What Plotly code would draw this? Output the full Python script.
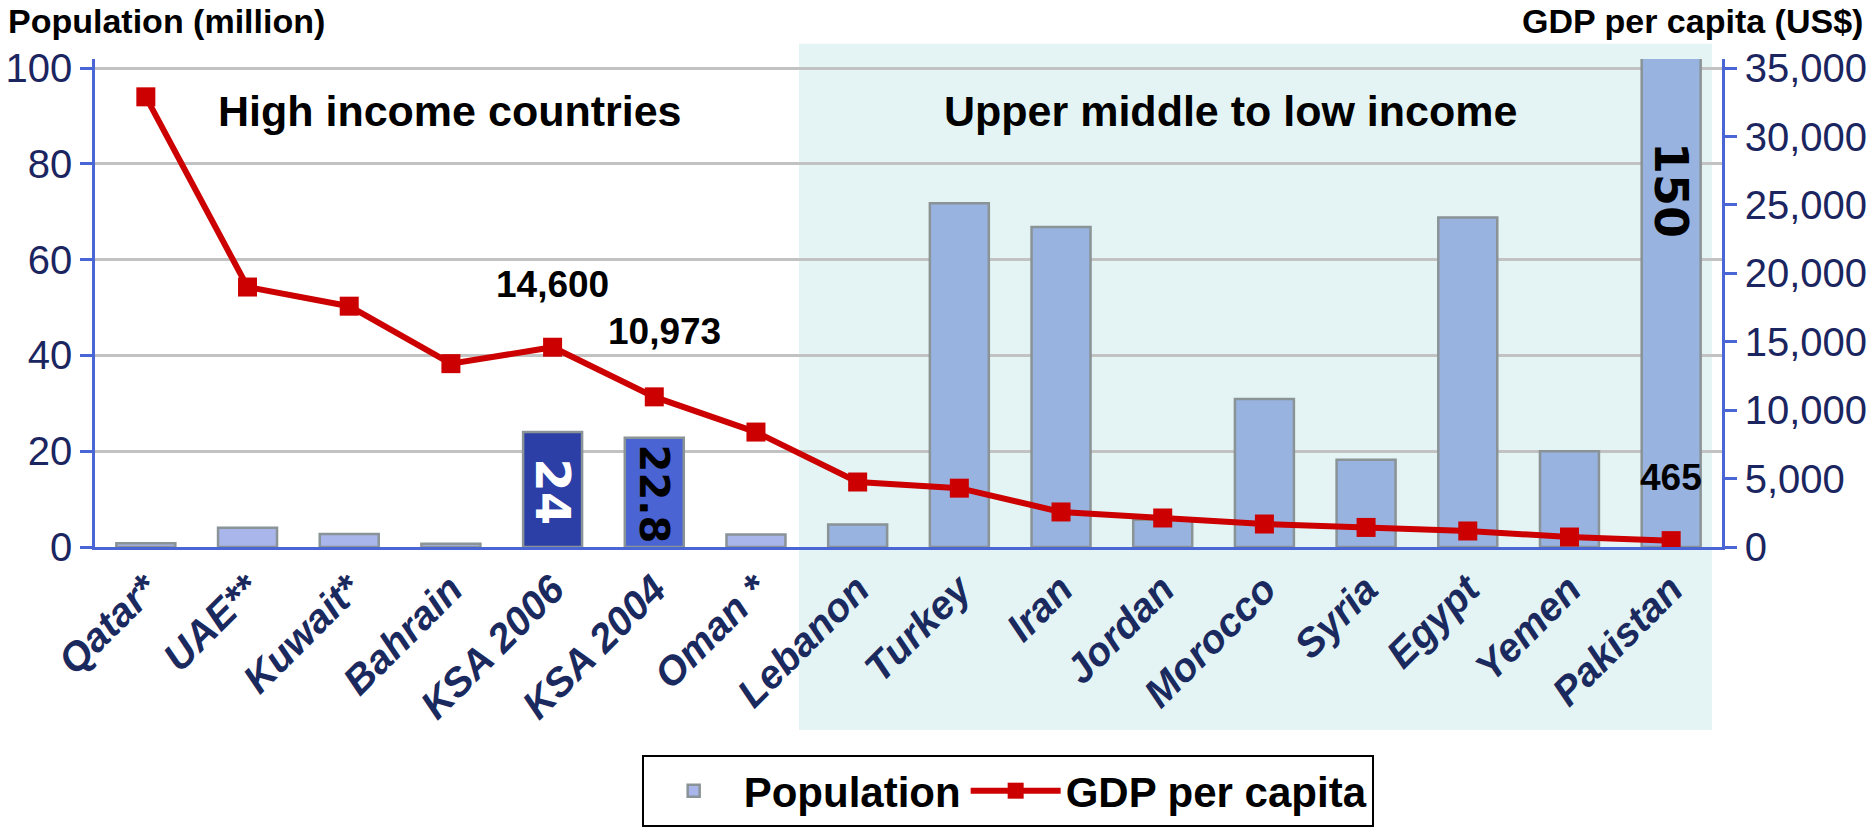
import plotly.graph_objects as go

# dados
paises = ["Qatar*", "UAE**", "Kuwait*", "Bahrain", "KSA 2006", "KSA 2004", "Oman *",
          "Lebanon", "Turkey", "Iran", "Jordan", "Morocco", "Syria", "Egypt", "Yemen", "Pakistan"]
populacao = [0.8, 4.0, 2.7, 0.7, 24, 22.8, 2.6, 4.7, 71.8, 66.8, 5.7, 30.9, 18.2, 68.8, 20.0, 150]
pib_per_capita = [32900, 19000, 17600, 13400, 14600, 10973, 8400, 4750, 4300, 2560, 2120, 1680, 1430, 1170, 730, 465]

ticks_pop = [0, 20, 40, 60, 80, 100]
ticks_pib = [0, 5000, 10000, 15000, 20000, 25000, 30000, 35000]

grupo_alto = "High income countries"
grupo_baixo = "Upper middle to low income"

# cores das barras
cor_alto = "#A9B6EB"
cor_baixo = "#98B3E0"
cores = []
for i, p in enumerate(paises):
    if p == "KSA 2006":
        cores.append("#2B3FA6")
    elif p == "KSA 2004":
        cores.append("#4A64D4")
    elif i < 7:
        cores.append(cor_alto)
    else:
        cores.append(cor_baixo)

FONTE = "Liberation Sans, Arial, sans-serif"
FONTE_LARGA = "DejaVu Sans, Verdana, sans-serif"
AZUL = "#4A66D4"
NAVY = "#1B2560"

fig = go.Figure()

fig.add_trace(go.Bar(
    x=paises, y=populacao, name="Population",
    marker=dict(color=cores, line=dict(color="#8A9396", width=2.5)),
    width=0.58, yaxis="y"
))

fig.add_trace(go.Scatter(
    x=paises, y=pib_per_capita, name="GDP per capita", mode="lines+markers",
    line=dict(color="#CC0000", width=6),
    marker=dict(symbol="square", size=19, color="#CC0000"),
    yaxis="y2"
))

# area sombreada (renda media/baixa)
fig.add_shape(type="rect", xref="paper", yref="paper",
              x0=0.4327, x1=0.9938, y0=-0.375, y1=1.031,
              fillcolor="#E4F4F4", line=dict(width=0), layer="below")

negrito = lambda s, c="black", f=FONTE: dict(family=f, size=s, color=c, weight="bold")

anot = [
    dict(text="Population (million)", xref="paper", yref="paper", x=-0.055, y=1.078,
         xanchor="left", yanchor="middle", font=negrito(34)),
    dict(text="GDP per capita (US$)", xref="paper", yref="paper", x=1.088, y=1.078,
         xanchor="right", yanchor="middle", font=negrito(34)),
    dict(text=grupo_alto, xref="paper", yref="paper", x=0.218, y=0.893,
         xanchor="center", yanchor="middle", font=negrito(43)),
    dict(text=grupo_baixo, xref="paper", yref="paper", x=0.698, y=0.893,
         xanchor="center", yanchor="middle", font=negrito(43)),
    dict(text="14,600", x="KSA 2006", y=54.9, xref="x", yref="y", font=negrito(37)),
    dict(text="10,973", x=5.1, y=44.9, xref="x", yref="y", font=negrito(37)),
    dict(text="465", x="Pakistan", y=14.6, xref="x", yref="y", font=negrito(37)),
    dict(text="24", x="KSA 2006", y=11.5, xref="x", yref="y", textangle=90,
         font=negrito(48, "white", FONTE_LARGA)),
    dict(text="22.8", x="KSA 2004", y=11.1, xref="x", yref="y", textangle=90,
         font=negrito(40, "black", FONTE_LARGA)),
    dict(text="150", x="Pakistan", y=74.5, xref="x", yref="y", textangle=90,
         font=negrito(46, "black", FONTE_LARGA)),
]
for a in anot:
    a["showarrow"] = False
    fig.add_annotation(**a)

fig.update_layout(
    width=1871, height=835,
    margin=dict(l=95, r=149, t=59, b=288, autoexpand=False),
    paper_bgcolor="white", plot_bgcolor="rgba(0,0,0,0)",
    showlegend=True,
    legend=dict(orientation="h", x=0.336, y=-0.426, xanchor="left", yanchor="top",
                bordercolor="black", borderwidth=2, bgcolor="white",
                itemwidth=90,
                font=negrito(42)),
    xaxis=dict(range=[-0.5, 15.5], showline=True, linecolor=AZUL, linewidth=2.5,
               showgrid=False, ticks="", tickangle=-45,
               tickfont=dict(family=FONTE, size=40, color="#1B2A5E", weight="bold", style="italic")),
    yaxis=dict(range=[0, 101.9], tickvals=ticks_pop, showline=True, linecolor=AZUL, linewidth=2.5,
               ticks="outside", ticklen=12, tickwidth=2.5, tickcolor=AZUL,
               showgrid=True, gridcolor="#C2C2C2", gridwidth=2.5, zeroline=False,
               tickfont=dict(family=FONTE, size=40, color=NAVY)),
    yaxis2=dict(range=[0, 35665], tickvals=ticks_pib, tickformat=",", overlaying="y", side="right",
                showline=True, linecolor=AZUL, linewidth=2.5,
                ticks="outside", ticklen=12, tickwidth=2.5, tickcolor=AZUL,
                showgrid=False, zeroline=False,
                tickfont=dict(family=FONTE, size=40, color=NAVY)),
)

# tira a margem padrão do <body> para a figura ocupar a janela toda
fig.write_html("out.html", config={"displayModeBar": False},
               post_script="document.body.style.margin='0px';")
